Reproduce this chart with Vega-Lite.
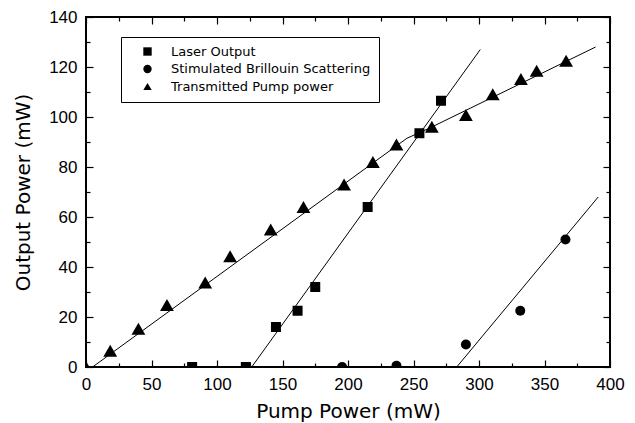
{
  "$schema": "https://vega.github.io/schema/vega-lite/v6.json",
  "width": 524,
  "height": 350,
  "autosize": "none",
  "padding": {"left": 86, "top": 17, "right": 25, "bottom": 56},
  "background": "white",
  "config": {
    "view": {"stroke": "black", "strokeWidth": 2},
    "axis": {
      "domain": false,
      "grid": false,
      "labelFlush": false,
      "tickColor": "black",
      "tickWidth": 1.2,
      "labelColor": "black",
      "labelFont": "Liberation Sans",
      "labelFontSize": 17,
      "titleFont": "DejaVu Sans",
      "titleFontSize": 20,
      "titleFontWeight": "normal",
      "titleColor": "black"
    }
  },
  "datasets": {
    "pts": [
      {"series": "Laser Output", "pump": 81, "out": 0},
      {"series": "Laser Output", "pump": 122, "out": 0},
      {"series": "Laser Output", "pump": 145, "out": 16},
      {"series": "Laser Output", "pump": 161.5, "out": 22.5},
      {"series": "Laser Output", "pump": 175, "out": 32},
      {"series": "Laser Output", "pump": 215, "out": 64},
      {"series": "Laser Output", "pump": 254.5, "out": 93.5},
      {"series": "Laser Output", "pump": 271, "out": 106.5},
      {"series": "Stimulated Brillouin Scattering", "pump": 195.5, "out": 0},
      {"series": "Stimulated Brillouin Scattering", "pump": 237, "out": 0.5},
      {"series": "Stimulated Brillouin Scattering", "pump": 290, "out": 9},
      {"series": "Stimulated Brillouin Scattering", "pump": 331.5, "out": 22.5},
      {"series": "Stimulated Brillouin Scattering", "pump": 366, "out": 51},
      {"series": "Transmitted Pump power", "pump": 0, "out": 0},
      {"series": "Transmitted Pump power", "pump": 18.5, "out": 6.5},
      {"series": "Transmitted Pump power", "pump": 40, "out": 15.3},
      {"series": "Transmitted Pump power", "pump": 61.8, "out": 24.8},
      {"series": "Transmitted Pump power", "pump": 91, "out": 33.8},
      {"series": "Transmitted Pump power", "pump": 110, "out": 44.3},
      {"series": "Transmitted Pump power", "pump": 141, "out": 55},
      {"series": "Transmitted Pump power", "pump": 166, "out": 64},
      {"series": "Transmitted Pump power", "pump": 197, "out": 73},
      {"series": "Transmitted Pump power", "pump": 219, "out": 82},
      {"series": "Transmitted Pump power", "pump": 237, "out": 89},
      {"series": "Transmitted Pump power", "pump": 264, "out": 96.1},
      {"series": "Transmitted Pump power", "pump": 290, "out": 100.8},
      {"series": "Transmitted Pump power", "pump": 310.5, "out": 109.1},
      {"series": "Transmitted Pump power", "pump": 332, "out": 115.2},
      {"series": "Transmitted Pump power", "pump": 344, "out": 118.5},
      {"series": "Transmitted Pump power", "pump": 366.5, "out": 122.5}
    ],
    "fits": [
      {"fit": "laser", "pump": 126.5, "out": 0},
      {"fit": "laser", "pump": 301, "out": 127},
      {"fit": "sbs", "pump": 283, "out": 0},
      {"fit": "sbs", "pump": 391, "out": 68},
      {"fit": "pump", "pump": 5, "out": 0},
      {"fit": "pump", "pump": 245, "out": 91.5},
      {"fit": "pump", "pump": 262, "out": 95.5},
      {"fit": "pump", "pump": 389, "out": 128}
    ]
  },
  "layer": [
    {
      "data": {"name": "fits"},
      "mark": {"type": "line", "color": "black", "strokeWidth": 1, "clip": true},
      "encoding": {
        "x": {
          "field": "pump", "type": "quantitative",
          "scale": {"domain": [0, 400], "nice": false},
          "axis": {
            "orient": "top", "title": null, "labels": false,
            "values": [0,25,50,75,100,125,150,175,200,225,250,275,300,325,350,375,400],
            "tickSize": {"condition": {"test": "datum.value % 50 === 0", "value": -7}, "value": -4}
          }
        },
        "y": {
          "field": "out", "type": "quantitative",
          "scale": {"domain": [0, 140], "nice": false},
          "axis": {
            "orient": "right", "title": null, "labels": false,
            "values": [0,10,20,30,40,50,60,70,80,90,100,110,120,130,140],
            "tickSize": {"condition": {"test": "datum.value % 20 === 0", "value": -7}, "value": -4}
          }
        },
        "detail": {"field": "fit"}
      }
    },
    {
      "data": {"name": "pts"},
      "mark": {"type": "point", "filled": true, "color": "black", "opacity": 1, "clip": true},
      "encoding": {
        "x": {
          "field": "pump", "type": "quantitative",
          "axis": {
            "orient": "bottom", "title": "Pump Power (mW)",
            "values": [0,25,50,75,100,125,150,175,200,225,250,275,300,325,350,375,400],
            "labelExpr": "datum.value % 50 === 0 ? datum.label : ''",
            "tickSize": {"condition": {"test": "datum.value % 50 === 0", "value": -7}, "value": -4},
            "labelPadding": 16,
            "titlePadding": 9
          }
        },
        "y": {
          "field": "out", "type": "quantitative",
          "axis": {
            "orient": "left", "title": "Output Power (mW)",
            "values": [0,10,20,30,40,50,60,70,80,90,100,110,120,130,140],
            "labelExpr": "datum.value % 20 === 0 ? datum.label : ''",
            "tickSize": {"condition": {"test": "datum.value % 20 === 0", "value": -7}, "value": -4},
            "labelPadding": 16,
            "titlePadding": 15
          }
        },
        "shape": {
          "field": "series", "type": "nominal",
          "scale": {
            "domain": ["Laser Output", "Stimulated Brillouin Scattering", "Transmitted Pump power"],
            "range": ["square", "circle", "triangle-up"]
          },
          "legend": {
            "orient": "none", "legendX": 35, "legendY": 20,
            "title": null,
            "strokeColor": "black", "fillColor": "white",
            "padding": 8,
            "symbolSize": 70, "symbolFillColor": "black", "symbolStrokeWidth": 0,
            "symbolOffset": 12,
            "labelOffset": 17,
            "labelLimit": 0,
            "labelFont": "DejaVu Sans", "labelFontSize": 13, "labelColor": "black",
            "rowPadding": 3.5,
            "encode": {"legend": {"update": {"strokeWidth": {"value": 1.5}}}}
          }
        },
        "size": {
          "condition": {"test": "datum.series === 'Transmitted Pump power'", "value": 190},
          "value": 100
        }
      }
    }
  ],
  "resolve": {"axis": {"x": "independent", "y": "independent"}}
}
